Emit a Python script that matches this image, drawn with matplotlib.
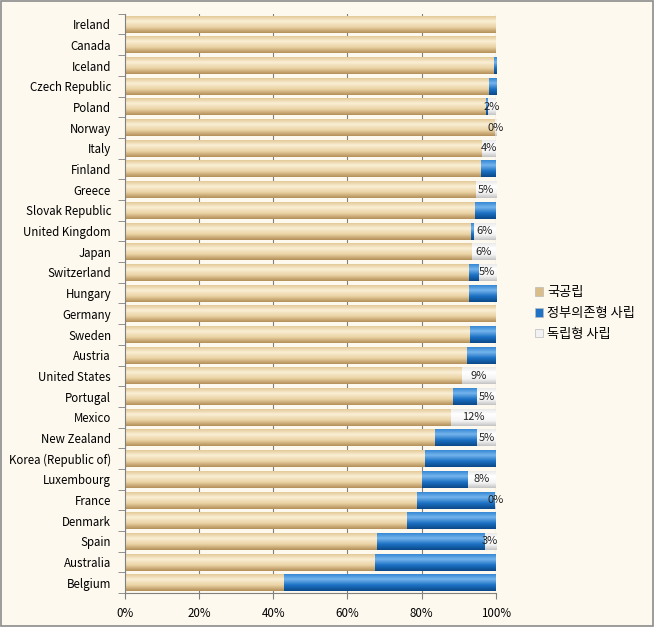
import numpy as np
import matplotlib
matplotlib.use('Agg')
import matplotlib.pyplot as plt
from matplotlib.colors import LinearSegmentedColormap
from matplotlib.patches import Patch, Rectangle

plt.rcParams['font.family'] = ['Noto Sans CJK KR', 'DejaVu Sans']

# 데이터 (위에서 아래 순서)
countries = ['Ireland', 'Canada', 'Iceland', 'Czech Republic', 'Poland', 'Norway', 'Italy',
             'Finland', 'Greece', 'Slovak Republic', 'United Kingdom', 'Japan', 'Switzerland',
             'Hungary', 'Germany', 'Sweden', 'Austria', 'United States', 'Portugal', 'Mexico',
             'New Zealand', 'Korea (Republic of)', 'Luxembourg', 'France', 'Denmark', 'Spain',
             'Australia', 'Belgium']
public = [100, 100, 99.4, 98.1, 97.4, 99.7, 96.4, 96.1, 94.6, 94.4, 93.4, 93.6, 92.9, 92.7,
          100, 93.0, 92.2, 91.0, 88.6, 87.9, 83.7, 80.9, 80.2, 78.7, 76.0, 68.0, 67.5, 43.0]
gov_dep = [0, 0, 0.6, 1.9, 0.6, 0, 0, 3.9, 0, 5.6, 0.8, 0, 2.5, 7.3,
           0, 7.0, 7.8, 0, 6.4, 0, 11.3, 19.1, 12.3, 21.1, 24.0, 29.0, 32.5, 57.0]
indep = [0, 0, 0, 0, 2.0, 0.3, 3.6, 0, 5.4, 0, 5.8, 6.4, 4.6, 0,
         0, 0, 0, 9.0, 5.0, 12.1, 5.0, 0, 7.5, 0.2, 0, 3.0, 0, 0]
series_names = ['국공립', '정부의존형 사립', '독립형 사립']
xticks = [0, 20, 40, 60, 80, 100]

bg = '#FDF9EF'

# 원통 느낌을 내기 위한 세로 그라데이션
cmaps = [
    LinearSegmentedColormap.from_list('tan', [(0, '#E3C998'), (0.3, '#FAEFD5'), (0.65, '#EBD3A5'), (1, '#B48F58')]),
    LinearSegmentedColormap.from_list('blue', [(0, '#3688D6'), (0.3, '#74B4EC'), (0.65, '#1D72C5'), (1, '#0A4888')]),
    LinearSegmentedColormap.from_list('white', [(0, '#EAEAEA'), (0.3, '#FFFFFF'), (0.7, '#F4F4F4'), (1, '#C4C4C4')]),
]
legend_colors = ['#D9BE8A', '#1F72C4', '#F2F2F2']

fig = plt.figure(figsize=(6.54, 6.27), dpi=100, facecolor=bg)
ax = fig.add_axes([0.191, 0.054, 0.567, 0.924])
ax.set_facecolor(bg)

y = np.arange(len(countries))
pub = np.array(public)
gov = np.array(gov_dep)
ind = np.array(indep)
h = 0.82

grad = np.linspace(0, 1, 64).reshape(-1, 1)
lefts = [np.zeros_like(pub), pub, pub + gov]
for vals, left, cm in zip([pub, gov, ind], lefts, cmaps):
    bars = ax.barh(y, vals, left=left, height=h, color='none', edgecolor='none', zorder=2)
    for p in bars.patches:
        if p.get_width() <= 0:
            continue
        x0, y0 = p.get_x(), p.get_y()
        im = ax.imshow(grad, cmap=cm, aspect='auto', origin='lower',
                       extent=[x0, x0 + p.get_width(), y0, y0 + p.get_height()],
                       zorder=2, interpolation='bilinear')
        im.set_clip_path(p)

# 독립형 사립 값 라벨
for i in range(len(countries)):
    if ind[i] > 0:
        ax.text(pub[i] + gov[i] + ind[i] / 2, y[i], f'{ind[i]:.0f}%', ha='center', va='center',
                fontsize=8, color='#222222', zorder=4)

ax.set_xlim(0, 100)
ax.set_ylim(len(countries) - 0.5, -0.5)
ax.set_xticks(xticks)
ax.set_xticklabels([f'{t}%' for t in xticks], fontsize=8.3)
ax.set_yticks(y)
ax.set_yticklabels(countries, fontsize=8.3)
ax.set_yticks(np.arange(len(countries) + 1) - 0.5, minor=True)
ax.tick_params(axis='y', which='major', length=0, pad=10)
ax.tick_params(axis='y', which='minor', length=5, color='#808080', direction='out')
ax.tick_params(axis='x', length=4, color='#808080', direction='out', pad=6)

ax.grid(axis='x', color='#7F7F7F', linewidth=0.8, zorder=1)
ax.set_axisbelow(True)
for s in ['top', 'right']:
    ax.spines[s].set_visible(False)
for s in ['left', 'bottom']:
    ax.spines[s].set_color('#808080')

handles = [Patch(facecolor=c, edgecolor='#BBBBBB', linewidth=0.5) for c in legend_colors]
fig.legend(handles, series_names, loc='center left', bbox_to_anchor=(0.80, 0.50),
           frameon=False, fontsize=9.5, handlelength=0.6, handleheight=0.6,
           handletextpad=0.3, labelspacing=0.6)

# 바깥 테두리
fig.patches.append(Rectangle((0.002, 0.002), 0.996, 0.996, transform=fig.transFigure,
                             fill=False, edgecolor='#8C8C8C', linewidth=1.2))

fig.savefig('out.png', dpi=100, facecolor=bg)
